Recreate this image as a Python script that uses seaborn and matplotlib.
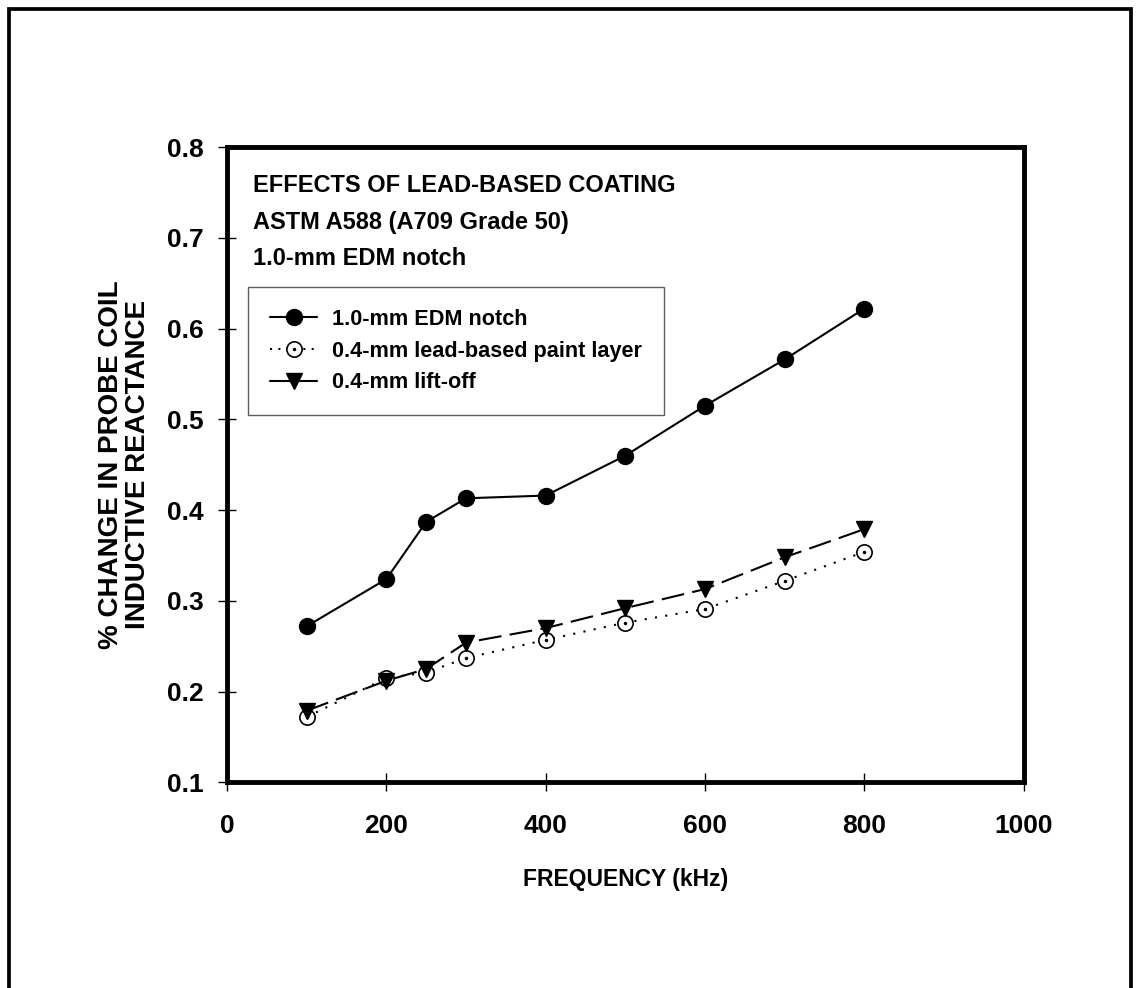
import numpy as np
import pandas as pd
import seaborn as sns
import matplotlib.pyplot as plt
from matplotlib.path import Path
from matplotlib.patches import Rectangle

# values
freq_khz = [100, 200, 250, 300, 400, 500, 600, 700, 800]
edm_notch = [0.272, 0.324, 0.387, 0.413, 0.416, 0.460, 0.515, 0.566, 0.622]
paint_layer = [0.172, 0.215, 0.221, 0.237, 0.257, 0.276, 0.291, 0.322, 0.354]
lift_off = [0.179, 0.212, 0.225, 0.254, 0.270, 0.292, 0.313, 0.348, 0.379]

series_names = ['1.0-mm EDM notch', '0.4-mm lead-based paint layer', '0.4-mm lift-off']
x_ticks = [0, 200, 400, 600, 800, 1000]
y_ticks = [0.1, 0.2, 0.3, 0.4, 0.5, 0.6, 0.7, 0.8]
title_lines = ['EFFECTS OF LEAD-BASED COATING', 'ASTM A588 (A709 Grade 50)', '1.0-mm EDM notch']

sns.set_theme(style="white")
plt.rcParams['font.family'] = ['Liberation Sans', 'DejaVu Sans']
plt.rcParams['font.weight'] = 'bold'
plt.rcParams['text.color'] = 'black'
plt.rcParams['axes.labelcolor'] = 'black'
plt.rcParams['xtick.color'] = 'black'
plt.rcParams['ytick.color'] = 'black'

W, H = 1140, 988
fig = plt.figure(figsize=(W / 100, H / 100), dpi=100)
ax = fig.add_axes([227 / W, 1 - 782.4 / H, (1023.7 - 227) / W, (782.4 - 147) / H])

df = pd.DataFrame({'freq': freq_khz, 'edm': edm_notch, 'paint': paint_layer, 'lift': lift_off})

# open circle with a dot in the middle
dot_circle = Path.make_compound_path(Path.circle((0, 0), 1.0), Path.circle((0, 0), 0.12))

sns.lineplot(data=df, x='freq', y='edm', ax=ax, color='black', linewidth=1.5,
             marker='o', markersize=11.5, markerfacecolor='black',
             markeredgecolor='black', markeredgewidth=1, label=series_names[0])
sns.lineplot(data=df, x='freq', y='paint', ax=ax, color='black', linewidth=1.5,
             linestyle=(0, (1, 4)), marker=dot_circle, markersize=11,
             markerfacecolor='white', markeredgecolor='black', markeredgewidth=1.2,
             label=series_names[1])
sns.lineplot(data=df, x='freq', y='lift', ax=ax, color='black', linewidth=1.5,
             linestyle=(0, (11, 4)), marker='v', markersize=12,
             markerfacecolor='black', markeredgecolor='black', markeredgewidth=1,
             label=series_names[2])

ax.set_xlim(0, 1000)
ax.set_ylim(0.1, 0.8)
ax.set_xticks(x_ticks)
ax.set_yticks(y_ticks)
ax.set_yticklabels([f'{v:.1f}' for v in y_ticks])
ax.tick_params(axis='both', direction='inout', length=13, width=1, color='black',
               labelsize=19, bottom=True, left=True)
ax.tick_params(axis='x', pad=16)
ax.tick_params(axis='y', pad=10)
for sp in ax.spines.values():
    sp.set_linewidth(3.5)
    sp.set_color('black')

ax.set_xlabel('FREQUENCY (kHz)', fontsize=16.5, fontweight='bold', labelpad=22)
ax.set_ylabel('% CHANGE IN PROBE COIL\nINDUCTIVE REACTANCE', fontsize=20,
              fontweight='bold', labelpad=12, linespacing=1.05)

fig.text(253 / W, 1 - 174 / H, '\n'.join(title_lines), fontsize=17, fontweight='bold',
         va='top', ha='left', linespacing=1.75)

leg = ax.legend(loc='upper left', bbox_to_anchor=((248 - 227) / 796.7, (782.4 - 287) / 635.4),
                borderaxespad=0, frameon=True, fancybox=False, edgecolor='#333333',
                prop={'size': 15.6, 'weight': 'bold'}, handlelength=2.2,
                handletextpad=0.68, borderpad=1.0, labelspacing=0.5)
leg.get_frame().set_linewidth(1)
leg.get_lines()[2].set_linestyle('-')
leg.get_lines()[1].set_linestyle((0, (1, 3)))

# outer frame around the whole figure (bottom edge runs off the image)
fig.patches.append(Rectangle((9 / W, -0.05), (1131 - 9) / W, 1.05 - 8.5 / H,
                             transform=fig.transFigure, fill=False,
                             edgecolor='black', linewidth=2.7))

fig.savefig('out.png', dpi=100, facecolor='white')
